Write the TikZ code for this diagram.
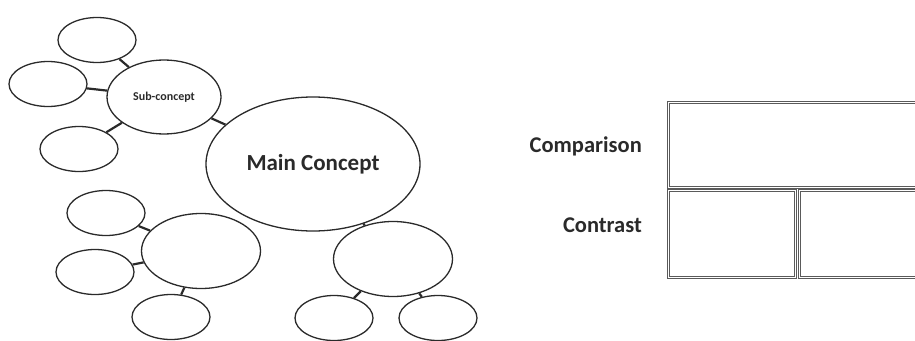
\documentclass[tikz,border=0pt]{standalone}
\usepackage{fontspec}
\setmainfont{Carlito}
\usepackage{xcolor}
\usepackage{tikz}
\usetikzlibrary{shapes.geometric,positioning}
\definecolor{ink}{HTML}{2A2A2A}
\definecolor{frame}{HTML}{5A5A5A}

\begin{document}
\begin{tikzpicture}[
  x=1pt, y=-1pt,
  bubble/.style={ellipse, draw=ink, line width=1.3pt, inner sep=0pt},
  leaf/.style={bubble, minimum width=78pt, minimum height=45pt},
  hub/.style={bubble, minimum width=119pt, minimum height=75pt},
  link/.style={ink, line width=2.2pt},
  cell/.style={rectangle, draw=frame, double=white, double distance=0.9pt,
    line width=0.7pt, anchor=north west, inner sep=0pt},
  rowlbl/.style={anchor=east, inner sep=0pt, font=\fontsize{22.5}{26}\selectfont\bfseries, text=ink},
]
\useasboundingbox (0,0) rectangle (915,340);

% ---------- concept map ----------
\node[bubble, minimum width=214pt, minimum height=134pt,
  font=\fontsize{23}{27}\selectfont\bfseries, text=ink] (main) at (313,164) {Main Concept};
\node[bubble, minimum width=114pt, minimum height=74pt,
  font=\fontsize{12}{14}\selectfont\bfseries, text=ink] (sub) at (164,97) {Sub-concept};

\node[leaf] (subTop) at (97,40) {};
\node[leaf] (subLeft) at (48,84) {};
\node[leaf] (subLow) at (79,149) {};

\node[hub] (hubL) at (201,251) {};
\node[leaf] (hubLtop) at (106,213) {};
\node[leaf] (hubLmid) at (95,272) {};
\node[leaf] (hubLlow) at (171,317) {};

\node[hub] (hubR) at (393,259) {};
\node[leaf] (hubRa) at (334,318) {};
\node[leaf] (hubRb) at (438,318) {};

\foreach \a/\b in {subTop/sub, subLeft/sub, subLow/sub, sub/main,
  hubLtop/hubL, hubLmid/hubL, hubLlow/hubL, main/hubR, hubR/hubRa, hubR/hubRb}
  \draw[link] (\a) -- (\b);

% ---------- comparison / contrast grid ----------
\node[cell, minimum width=300pt, minimum height=85pt] (cmp) at (668,102) {};
\node[cell, minimum width=127pt, minimum height=87pt] (conA) at (668,190) {};
\node[cell, minimum width=170pt, minimum height=87pt] (conB) at (799,190) {};

\node[rowlbl] (cmpLbl) at (642,146) {Comparison};
\node[rowlbl] (conLbl) at (642,225) {Contrast};

\end{tikzpicture}
\end{document}
